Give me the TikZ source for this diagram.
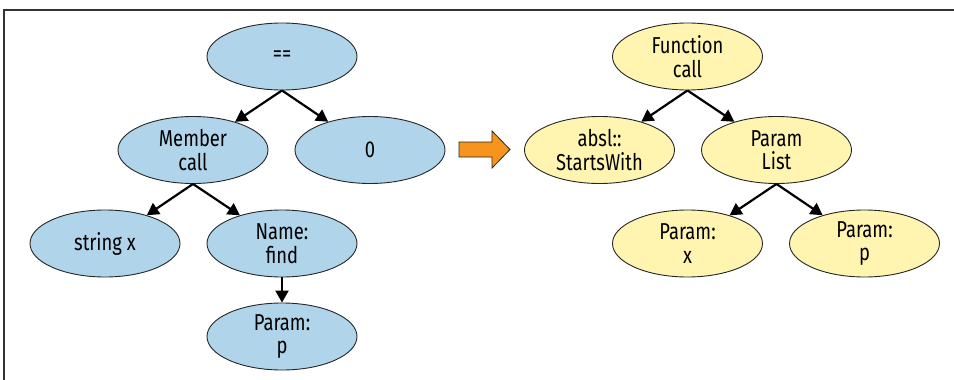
\documentclass[tikz,border=0pt]{standalone}
\usepackage{fontspec}
\setmainfont[FakeStretch=0.8]{Fira Sans}
\usetikzlibrary{shapes.geometric,arrows.meta}
\definecolor{nodeblue}{RGB}{176,212,234}
\definecolor{nodeyellow}{RGB}{255,244,176}
\definecolor{arroworange}{RGB}{247,148,29}
\tikzset{
  treenode/.style={ellipse, draw=black!85, line width=0.9pt, minimum width=150pt, minimum height=67pt, inner sep=0pt, align=center, font=\fontsize{23}{23.5}\selectfont},
  bluenode/.style={treenode, fill=nodeblue},
  yellownode/.style={treenode, fill=nodeyellow},
  edge/.style={line width=2.2pt, -{Triangle[length=12pt,width=13pt]}},
  framerule/.style={line width=1.4pt, draw=black!80}
}
\begin{document}
\begin{tikzpicture}[x=1pt,y=-1pt]
\useasboundingbox (0,0) rectangle (954,380);
\coordinate (ftl) at (4,10);
\coordinate (ftr) at (954,10);
\coordinate (fbl) at (4,380);
\draw[framerule] (fbl) -- (ftl) -- (ftr);

% left tree
\node[bluenode] (eq) at (282,56.5) {==};
\node[bluenode] (member) at (193,150) {Member\\call};
\node[bluenode] (zero) at (370,150) {0};
\node[bluenode] (strx) at (105,243.5) {string x};
\node[bluenode] (namefind) at (282,243.5) {Name:\\find};
\node[bluenode] (paramp) at (282,336.5) {Param:\\p};

\draw[edge] (eq.south) -- (member);
\draw[edge] (eq.south) -- (zero);
\draw[edge] (member.south) -- (strx);
\draw[edge] (member.south) -- (namefind);
\draw[edge] (namefind.south) -- (paramp.north);

% orange arrow
\draw[fill=arroworange, draw=black!85, line width=0.8pt, line join=miter]
  (459,142) -- (492,142) -- (492,131) -- (510,149.5) -- (492,168) -- (492,157) -- (459,157) -- cycle;

% right tree
\node[yellownode] (fcall) at (687.5,56.5) {Function\\call};
\node[yellownode] (starts) at (599.5,150) {absl::\\StartsWith};
\node[yellownode] (plist) at (776.5,150) {Param\\List};
\node[yellownode] (px) at (687.5,243.5) {Param:\\x};
\node[yellownode] (pp) at (864.5,243.5) {Param:\\p};

\draw[edge] (fcall.south) -- (starts);
\draw[edge] (fcall.south) -- (plist);
\draw[edge] (plist.south) -- (px);
\draw[edge] (plist.south) -- (pp);
\end{tikzpicture}
\end{document}
